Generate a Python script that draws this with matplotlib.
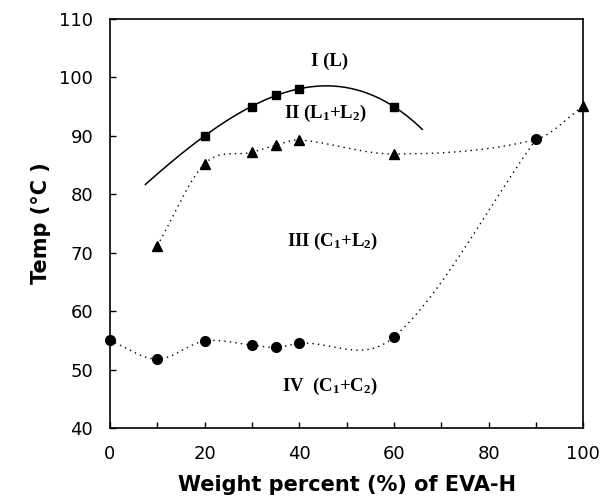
import numpy as np
import matplotlib
matplotlib.use("Agg")
import matplotlib.pyplot as plt

# phase boundaries, weight % EVA-H vs temperature (C)
x_sq = [20, 30, 35, 40, 60]
t_sq = [90.0, 95.0, 97.0, 98.0, 95.0]

x_tri = [10, 20, 30, 35, 40, 60, 100]
t_tri = [71.2, 85.2, 87.2, 88.4, 89.3, 86.9, 95.1]

x_circ = [0, 10, 20, 30, 35, 40, 60, 90]
t_circ = [55.0, 51.8, 54.9, 54.2, 53.8, 54.5, 55.6, 89.4]

# the liquidus fit is drawn over this range
fit_range = [7.5, 66]

regions = ["I (L)", r"II (L$_1$+L$_2$)", r"III (C$_1$+L$_2$)", r"IV  (C$_1$+C$_2$)"]
region_x = [46.5, 45.5, 47.0, 46.5]
region_t = [102.7, 93.9, 72.0, 47.1]


def smooth(xk, yk, xs):
    # cubic Hermite through the knots, tangents from neighbouring points
    xk = np.asarray(xk, float)
    yk = np.asarray(yk, float)
    n = len(xk)
    m = np.empty(n)
    m[0] = (yk[1] - yk[0]) / (xk[1] - xk[0])
    m[-1] = (yk[-1] - yk[-2]) / (xk[-1] - xk[-2])
    m[1:-1] = (yk[2:] - yk[:-2]) / (xk[2:] - xk[:-2])
    j = np.clip(np.searchsorted(xk, xs) - 1, 0, n - 2)
    h = xk[j + 1] - xk[j]
    t = (xs - xk[j]) / h
    h00 = 2 * t**3 - 3 * t**2 + 1
    h10 = t**3 - 2 * t**2 + t
    h01 = -2 * t**3 + 3 * t**2
    h11 = t**3 - t**2
    return h00 * yk[j] + h10 * h * m[j] + h01 * yk[j + 1] + h11 * h * m[j + 1]


plt.rcParams["mathtext.fontset"] = "custom"
plt.rcParams["mathtext.rm"] = "Liberation Serif:bold"
plt.rcParams["mathtext.it"] = "Liberation Serif:bold"
plt.rcParams["mathtext.bf"] = "Liberation Serif:bold"

fig = plt.figure(figsize=(6.07, 4.99), dpi=100)
ax = fig.add_axes([0.181, 0.142, 0.780, 0.820])

# solid fit through the squares
coef = np.polyfit(x_sq, t_sq, 3)
xf = np.linspace(fit_range[0], fit_range[1], 200)
ax.plot(xf, np.polyval(coef, xf), color="black", lw=1.1)

# dotted boundaries; the upper one runs through the 90 % point too
xt_knots = x_tri[:-1] + [x_circ[-1]] + x_tri[-1:]
tt_knots = t_tri[:-1] + [t_circ[-1]] + t_tri[-1:]
xs = np.linspace(xt_knots[0], xt_knots[-1], 400)
ax.plot(xs, smooth(xt_knots, tt_knots, xs), color="black", lw=1.0,
        linestyle=(0, (1, 3)))
xs = np.linspace(x_circ[0], x_circ[-1], 400)
ax.plot(xs, smooth(x_circ, t_circ, xs), color="black", lw=1.0,
        linestyle=(0, (1, 3)))

ax.plot(x_sq, t_sq, "s", color="black", ms=6)
ax.plot(x_tri, t_tri, "^", color="black", ms=6.5, clip_on=False, zorder=5)
ax.plot(x_circ, t_circ, "o", color="black", ms=7, clip_on=False, zorder=5)

for label, lx, lt in zip(regions, region_x, region_t):
    ax.text(lx, lt, label, ha="center", va="center", fontsize=13.5,
            family="Liberation Serif", fontweight="bold")

ax.set_xlim(0, 100)
ax.set_ylim(40, 110)
ax.set_xticks(range(0, 101, 20))
ax.set_xticks(range(10, 100, 20), minor=True)
ax.set_yticks(range(40, 111, 10))
ax.tick_params(which="both", direction="in", length=4, width=1,
               labelsize=13, pad=12)
for s in ax.spines.values():
    s.set_linewidth(1.2)

ax.set_xlabel("Weight percent (%) of EVA-H", fontsize=15, fontweight="bold",
              labelpad=9)
ax.set_ylabel("Temp (°C )", fontsize=15, fontweight="bold", labelpad=6)

fig.savefig("out.png", dpi=100)
